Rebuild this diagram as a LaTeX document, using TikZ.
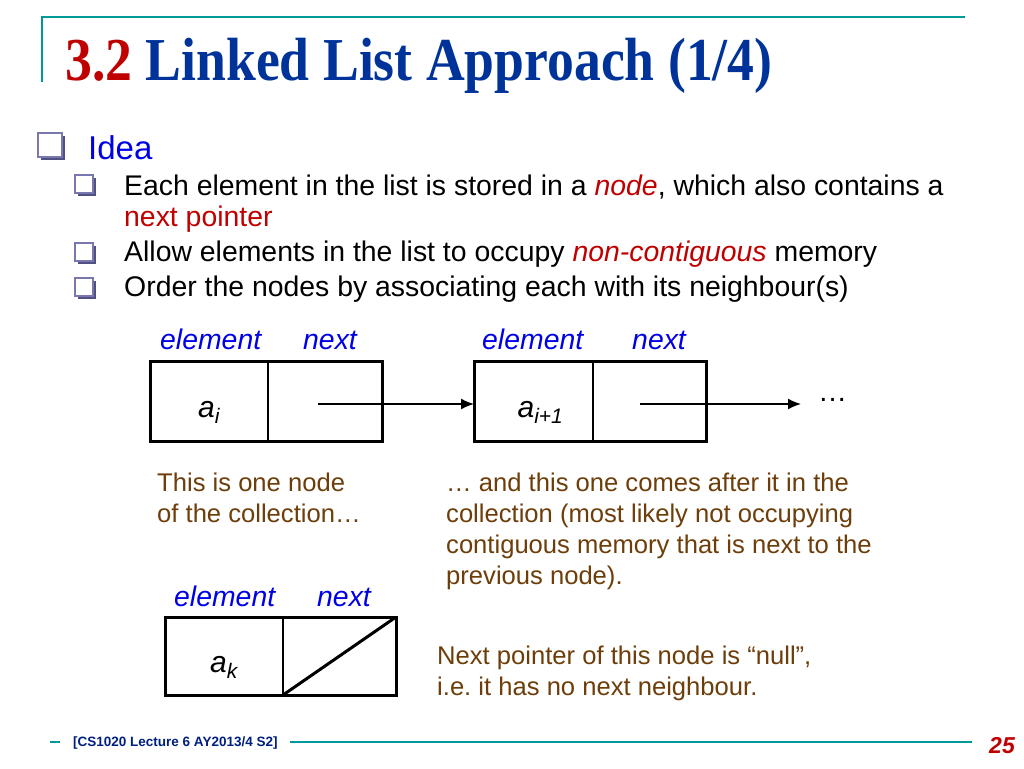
\documentclass[tikz,border=0pt]{standalone}
\usepackage{fontspec}
\setmainfont{Liberation Sans}
\newfontfamily\titlefont{Liberation Serif}
\usepackage{xcolor}
\usetikzlibrary{positioning, arrows.meta}
\definecolor{titleblue}{RGB}{0,51,153}
\definecolor{titlered}{RGB}{192,0,0}
\definecolor{ideablue}{RGB}{0,0,230}
\definecolor{hlred}{RGB}{192,0,0}
\definecolor{noteb}{RGB}{110,62,10}
\definecolor{teal}{RGB}{0,153,153}
\definecolor{bullet}{RGB}{120,120,175}
\definecolor{bulletsh}{RGB}{80,80,130}
\definecolor{footblue}{RGB}{0,32,128}

\newcommand{\fs}[1]{\fontsize{#1}{#1}\selectfont}
\newcommand{\low}[1]{\raisebox{-16pt}[0pt][0pt]{#1}}

\begin{document}
\begin{tikzpicture}[x=1pt, y=-1pt]
	\tikzstyle{line} = [anchor=base west, inner sep=0pt, font=\fs{28.4}]
	\tikzstyle{note} = [line, text=noteb, font=\fs{25.6}]
	\tikzstyle{lbl} = [anchor=base west, inner sep=0pt, text=ideablue, font=\itshape\fs{28.4}]
	\tikzstyle{cell} = [rectangle, draw, line width=2pt, outer sep=0pt, minimum height=80pt, font=\itshape\fs{30}]
	\tikzstyle{frame} = [line width=3pt]
	\tikzstyle{ptr} = [line width=1.6pt, -{Latex[length=13pt, width=11pt]}]
	\tikzstyle{rule} = [draw=teal, line width=2.2pt]

	\useasboundingbox (0,0) rectangle (1024,768);
	\fill[white] (0,0) rectangle (1024,768);

	% title frame
	\draw[rule] (42,82) -- (42,17) -- (965,17);
	\node (title) [anchor=base west, inner sep=0pt] at (65,80)
		{\scalebox{0.88}[1]{\titlefont\bfseries\fs{61}\textcolor{titlered}{3.2} \textcolor{titleblue}{Linked List Approach (1/4)}}};

	% bullets
	\foreach \x/\y/\s in {38/133/24, 75/175/18, 75/243/18, 75/278/18} {
		\fill[bulletsh] (\x+3,\y+3) rectangle (\x+\s+3,\y+\s+3);
		\draw[bullet, line width=1.6pt, fill=white] (\x,\y) rectangle (\x+\s,\y+\s);
	}
	\node (idea) [line, text=ideablue, font=\fs{33}] at (88,159) {Idea};
	\node (p1) [line] at (124,195) {Each element in the list is stored in a \textcolor{hlred}{\itshape node}, which also contains a};
	\node (p1b) [line, text=hlred] at (124,226) {next pointer};
	\node (p2) [line] at (124,261) {Allow elements in the list to occupy \textcolor{hlred}{\itshape non-contiguous} memory};
	\node (p3) [line] at (124,296) {Order the nodes by associating each with its neighbour(s)};

	% first list node
	\node (e1) [cell, minimum width=118pt] at (209,401) {\low{a\textsubscript{i}}};
	\node (n1) [cell, minimum width=114pt, right=0pt of e1] {};
	\draw[frame] (e1.north west) rectangle (n1.south east);
	\node (le1) [lbl] at (160,349) {element};
	\node (ln1) [lbl] at (303,349) {next};

	% second list node
	\node (e2) [cell, minimum width=119pt] at (533.5,401) {\low{\hspace*{14pt}a\textsubscript{i+1}}};
	\node (n2) [cell, minimum width=113pt, right=0pt of e2] {};
	\draw[frame] (e2.north west) rectangle (n2.south east);
	\node (le2) [lbl] at (482,349) {element};
	\node (ln2) [lbl] at (632,349) {next};

	\coordinate (s1) at (318,404);
	\coordinate (s2) at (640,404);
	\coordinate (t2) at (801,404);
	\draw[ptr] (s1) -- (e2.west |- s1);
	\draw[ptr] (s2) -- (t2);
	\node (dots) [anchor=base west, inner sep=0pt, font=\fs{29}] at (818,401) {…};

	\node (n1txt) [note] at (157,491) {This is one node};
	\node (n1txtb) [note] at (157,522) {of the collection…};
	\node (n2txt) [note] at (446,491) {… and this one comes after it in the};
	\node (n2txtb) [note] at (446,522) {collection (most likely not occupying};
	\node (n2txtc) [note] at (446,553) {contiguous memory that is next to the};
	\node (n2txtd) [note] at (446,584) {previous node).};

	% last list node
	\node (e3) [cell, minimum width=118pt, minimum height=78pt] at (224,656) {\low{a\textsubscript{k}}};
	\node (n3) [cell, minimum width=113pt, minimum height=78pt, right=0pt of e3] {};
	\draw[frame] (e3.north west) rectangle (n3.south east);
	\draw[line width=3pt] (n3.south west) -- (n3.north east);
	\node (le3) [lbl] at (174,606) {element};
	\node (ln3) [lbl] at (317,606) {next};

	\node (n3txt) [note] at (437,664) {Next pointer of this node is “null”,};
	\node (n3txtb) [note] at (437,695) {i.e.\ it has no next neighbour.};

	% footer
	\draw[draw=teal, line width=2.5pt] (50,742) -- (60,742);
	\node (foot) [anchor=base west, inner sep=0pt, text=footblue, font=\bfseries\fs{13.5}] at (73,746) {[CS1020 Lecture 6 AY2013/4 S2]};
	\draw[rule] (290,742) -- (972,742);
	\node (page) [anchor=base west, inner sep=0pt, text=titlered, font=\bfseries\itshape\fs{23}] at (989,753) {25};
\end{tikzpicture}
\end{document}
